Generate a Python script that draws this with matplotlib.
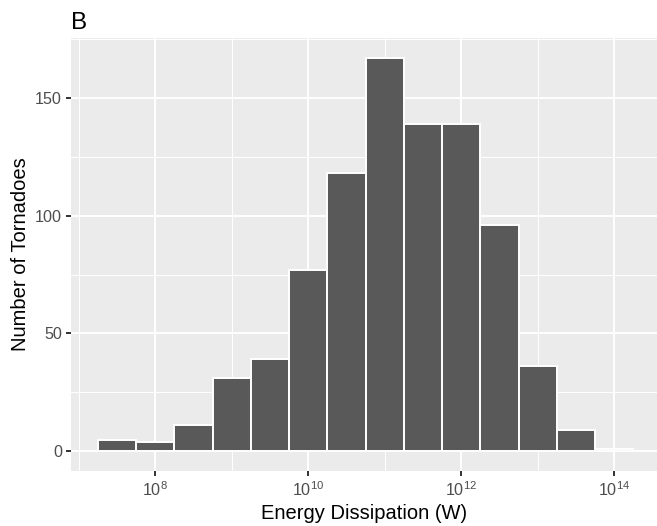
import numpy as np
import matplotlib
matplotlib.use('Agg')
import matplotlib.pyplot as plt
from matplotlib.ticker import FixedLocator, FuncFormatter

plt.rcParams['font.family'] = ['Liberation Sans', 'DejaVu Sans']
plt.rcParams['mathtext.default'] = 'regular'

# histogram data (log10 bin centres, counts)
bin_centres = [7.5, 8.0, 8.5, 9.0, 9.5, 10.0, 10.5, 11.0, 11.5, 12.0, 12.5, 13.0, 13.5, 14.0]
counts = [5, 4, 11, 31, 39, 77, 118, 167, 139, 139, 96, 36, 9, 1]
bin_width = 0.5
x_major = [8, 10, 12, 14]
x_minor = [7, 9, 11, 13]
y_major = [0, 50, 100, 150]
y_minor = [25, 75, 125, 175]

S = 1.32  # ggplot pt -> this canvas
W, H = 657, 526
fig = plt.figure(figsize=(W / 100, H / 100), dpi=100)
ax = fig.add_axes([71 / W, (H - 471) / H, (W - 71) / W, (471 - 38) / H])

ax.set_facecolor('#EBEBEB')
for s in ax.spines.values():
    s.set_visible(False)

ax.set_xscale('log')
ax.set_xlim(10 ** 6.9, 10 ** 14.56)
ax.set_ylim(-8.35, 175.35)

# grid
for v in x_minor:
    ax.axvline(10.0 ** v, color='white', lw=0.53 * S, zorder=1)
for v in y_minor:
    ax.axhline(v, color='white', lw=0.53 * S, zorder=1)
for v in x_major:
    ax.axvline(10.0 ** v, color='white', lw=1.07 * S, zorder=1)
for v in y_major:
    ax.axhline(v, color='white', lw=1.07 * S, zorder=1)

c = np.array(bin_centres)
left = 10 ** (c - bin_width / 2)
right = 10 ** (c + bin_width / 2)
ax.bar(left, counts, width=right - left, align='edge', color='#595959',
       edgecolor='white', linewidth=1.07 * S, zorder=2)

ax.xaxis.set_major_locator(FixedLocator([10.0 ** v for v in x_major]))
ax.xaxis.set_minor_locator(FixedLocator([]))
ax.xaxis.set_major_formatter(FuncFormatter(lambda v, p: r'$10^{%d}$' % round(np.log10(v))))
ax.set_yticks(y_major)

ax.tick_params(axis='both', which='major', length=2.75 * S, width=1.07 * S,
               color='#333333', labelcolor='#4D4D4D', labelsize=8.8 * S, pad=2.2 * S)

ax.set_xlabel('Energy Dissipation (W)', fontsize=11 * S, color='black', labelpad=2.75 * S)
ax.set_ylabel('Number of Tornadoes', fontsize=11 * S, color='black', labelpad=2.75 * S)

fig.text(71 / W, 1 - 12 / H, 'B', fontsize=13.2 * S, ha='left', va='top')

fig.savefig('out.png', dpi=100)
